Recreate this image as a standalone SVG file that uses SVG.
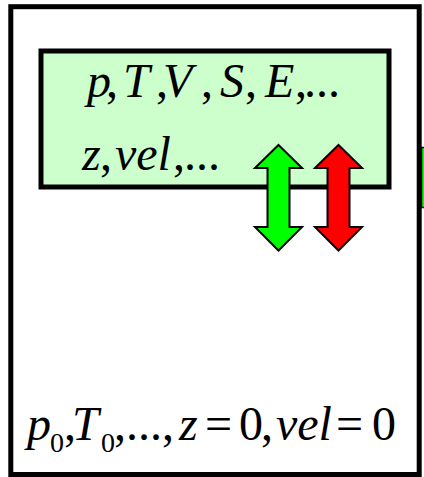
<svg xmlns="http://www.w3.org/2000/svg" width="424" height="477" viewBox="0 0 424 477">
<style>
.t{font-family:"Liberation Serif","Times New Roman",serif;fill:#000}
.i{font-style:italic}
.arrow{stroke:#000;stroke-width:2;stroke-linejoin:miter}
</style>
<rect width="424" height="477" fill="#fff"/>
<g id="outer-box">
<rect x="10.8" y="6.7" width="408.4" height="467.8" fill="#fff" stroke="#000" stroke-width="5"/>
</g>
<g id="side-box">
<rect x="421.5" y="147.5" width="10" height="60" fill="#00ff00" stroke="#000" stroke-width="1.5"/>
</g>
<g id="state-box">
<rect x="41" y="51" width="348" height="136" fill="#ccffcc" stroke="#000" stroke-width="5"/>
<text class="t" font-size="48" y="97"><tspan class="i" x="87">p</tspan><tspan x="106">,</tspan><tspan class="i" x="123">T</tspan><tspan x="156">,</tspan><tspan class="i" x="163">V</tspan><tspan x="201">,</tspan><tspan class="i" x="220">S</tspan><tspan x="245">,</tspan><tspan class="i" x="265">E</tspan><tspan x="295">,</tspan><tspan x="304">...</tspan></text>
<text class="t" font-size="48" y="170"><tspan class="i" x="82">z</tspan><tspan x="100">,</tspan><tspan class="i" x="115">vel</tspan><tspan x="173">,</tspan><tspan x="184">...</tspan></text>
</g>
<g id="connectors">
<path class="arrow" fill="#00ff00" d="M278.5,145 L302,168 L289.5,168 L289.5,227 L302,227 L278.5,250.5 L255,227 L267.5,227 L267.5,168 L255,168 Z"/>
<path class="arrow" fill="#ff0000" d="M338.5,145 L362,168 L349.5,168 L349.5,227 L362,227 L338.5,250.5 L315,227 L327.5,227 L327.5,168 L315,168 Z"/>
</g>
<g id="ground-state">
<text class="t" font-size="48" y="440"><tspan class="i" x="27">p</tspan><tspan font-size="28" x="50" y="452">0</tspan><tspan x="64" y="440">,</tspan><tspan class="i" x="72">T</tspan><tspan font-size="28" x="101" y="452">0</tspan><tspan x="114" y="440">,...,</tspan><tspan class="i" x="179">z</tspan><tspan x="205">=</tspan><tspan x="239">0</tspan><tspan x="261">,</tspan><tspan class="i" x="276">vel</tspan><tspan x="336">=</tspan><tspan x="372">0</tspan></text>
</g>
</svg>
